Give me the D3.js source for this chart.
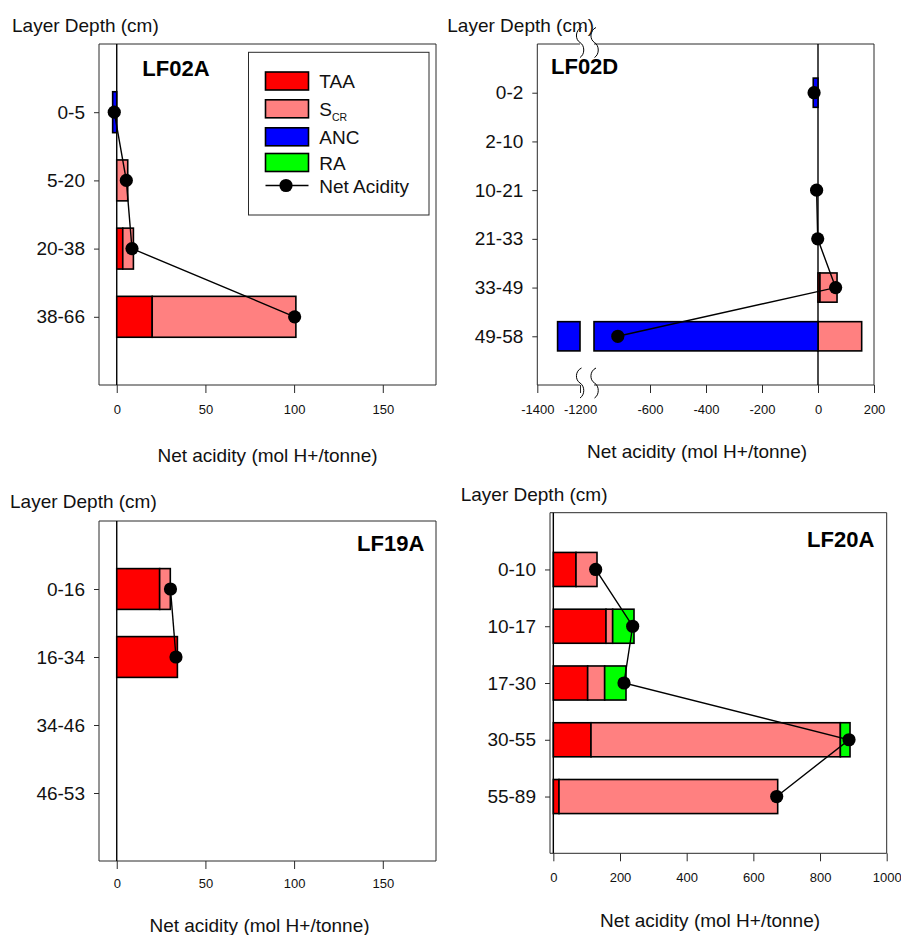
<!DOCTYPE html>
<html>
<head>
<meta charset="utf-8">
<script src="https://cdn.jsdelivr.net/npm/d3@7"></script>
<style>
  html, body { margin: 0; padding: 0; background: #fff; }
  svg { display: block; font-family: "Liberation Sans", Arial, sans-serif; }
</style>
</head>
<body>
<svg id="chart" width="901" height="935"></svg>
<script>
// ---------------- data ----------------
const componentKeys   = ["TAA", "SCR", "ANC", "RA"];
const componentColors = { TAA: "#ff0000", SCR: "#ff8080", ANC: "#0000ff", RA: "#00ff00" };

// LF02A
const lf02aDepths = ["0-5", "5-20", "20-38", "38-66"];
const lf02aTAA    = [0, 0, 3.4, 20];
const lf02aSCR    = [0, 6.2, 6, 81];
const lf02aANC    = [2.3, 0, 0, 0];
const lf02aRA     = [0, 0, 0, 0];
const lf02aNet    = [-1.4, 5.4, 8.6, 100.3];
const lf02aTicks  = [0, 50, 100, 150];

// LF02D (broken x axis)
const lf02dDepths = ["0-2", "2-10", "10-21", "21-33", "33-49", "49-58"];
const lf02dTAA    = [0, 0, 0, 0, 7, 0];
const lf02dSCR    = [0, 0, 0, 0, 61, 156];
const lf02dANC    = [17, 0, 0, 0, 0, 1305];
const lf02dRA     = [0, 0, 0, 0, 0, 0];
const lf02dNet    = [-14, null, -5, -1, 63, -715];
const lf02dTicks  = [-1400, -1200, -600, -400, -200, 0, 200];

// LF19A
const lf19aDepths = ["0-16", "16-34", "34-46", "46-53"];
const lf19aTAA    = [24.2, 34.2, 0, 0];
const lf19aSCR    = [6, 0, 0, 0];
const lf19aANC    = [0, 0, 0, 0];
const lf19aRA     = [0, 0, 0, 0];
const lf19aNet    = [30.3, 33.4, null, null];
const lf19aTicks  = [0, 50, 100, 150];

// LF20A
const lf20aDepths = ["0-10", "10-17", "17-30", "30-55", "55-89"];
const lf20aTAA    = [68, 158, 103, 113, 17];
const lf20aSCR    = [63, 20, 51, 748, 656];
const lf20aANC    = [0, 0, 0, 0, 0];
const lf20aRA     = [0, 64, 64, 29, 0];
const lf20aNet    = [127, 238, 212, 887, 670];
const lf20aTicks  = [0, 200, 400, 600, 800, 1000];

const yTitle = "Layer Depth (cm)";
const xTitle = "Net acidity (mol H+/tonne)";

// ---------------- panel setup ----------------
const panels = [
  {
    name: "LF02A", depths: lf02aDepths, TAA: lf02aTAA, SCR: lf02aSCR, ANC: lf02aANC, RA: lf02aRA, net: lf02aNet, ticks: lf02aTicks,
    frame: { x0: 99, x1: 436, y0: 44, y1: 385 },
    segments: [{ domain: [-10, 180], range: [99, 436] }],
    yTitlePos: [12, 31.5], xTitlePos: [267.5, 461.5],
    namePos: [142.3, 76, "start"], tickPad: 12, legend: true
  },
  {
    name: "LF02D", depths: lf02dDepths, TAA: lf02dTAA, SCR: lf02dSCR, ANC: lf02dANC, RA: lf02dRA, net: lf02dNet, ticks: lf02dTicks,
    frame: { x0: 537.3, x1: 874, y0: 44, y1: 385 },
    segments: [{ domain: [-1400, -1200], range: [537.3, 580] },
               { domain: [-800, 200], range: [594, 874] }],
    yTitlePos: [447.3, 32.3], xTitlePos: [697, 458],
    namePos: [551, 74, "start"], tickPad: 12, legend: false
  },
  {
    name: "LF19A", depths: lf19aDepths, TAA: lf19aTAA, SCR: lf19aSCR, ANC: lf19aANC, RA: lf19aRA, net: lf19aNet, ticks: lf19aTicks,
    frame: { x0: 99, x1: 436, y0: 521, y1: 861 },
    segments: [{ domain: [-10, 180], range: [99, 436] }],
    yTitlePos: [10, 508.3], xTitlePos: [259.5, 932],
    namePos: [424.3, 551, "end"], tickPad: 10, legend: false
  },
  {
    name: "LF20A", depths: lf20aDepths, TAA: lf20aTAA, SCR: lf20aSCR, ANC: lf20aANC, RA: lf20aRA, net: lf20aNet, ticks: lf20aTicks,
    frame: { x0: 550, x1: 886.7, y0: 512.7, y1: 853.3 },
    segments: [{ domain: [-10, 1000], range: [550, 886.7] }],
    yTitlePos: [460.7, 500.7], xTitlePos: [710, 927.3],
    namePos: [874.3, 546.7, "end"], tickPad: 11, legend: false
  }
];

const svg = d3.select("#chart");

function drawPanel(p) {
  const g = svg.append("g").attr("class", "panel-" + p.name);
  const f = p.frame;

  const segs = p.segments.map(s => ({ dom: s.domain, sc: d3.scaleLinear().domain(s.domain).range(s.range) }));
  const xPos = v => {
    for (const s of segs) if (v >= s.dom[0] && v <= s.dom[1]) return s.sc(v);
    return v < segs[0].dom[0] ? segs[0].sc(v) : segs[segs.length - 1].sc(v);
  };

  const y = d3.scalePoint().domain(p.depths).range([f.y0, f.y1]).padding(1);
  const barH = y.step() * 0.6;

  // frame (split where the x axis is broken)
  const frameG = g.append("g").attr("fill", "none").attr("stroke", "#2a2a2a").attr("stroke-width", 1);
  frameG.append("line").attr("x1", f.x0).attr("x2", f.x0).attr("y1", f.y0).attr("y2", f.y1);
  frameG.append("line").attr("x1", f.x1).attr("x2", f.x1).attr("y1", f.y0).attr("y2", f.y1);
  segs.forEach(s => {
    const [r0, r1] = s.sc.range();
    [f.y0, f.y1].forEach(yy => frameG.append("line").attr("x1", r0).attr("x2", r1).attr("y1", yy).attr("y2", yy));
  });

  // zero reference line
  g.append("line")
    .attr("x1", xPos(0)).attr("x2", xPos(0)).attr("y1", f.y0).attr("y2", f.y1)
    .attr("stroke", "#000").attr("stroke-width", 1.4);

  // stacked component bars
  const rows = p.depths.map((d, i) => {
    const pieces = [];
    let acc = 0;
    ["TAA", "SCR", "RA"].forEach(k => {
      const v = p[k][i];
      if (v > 0) { pieces.push({ key: k, a: acc, b: acc + v }); acc += v; }
    });
    if (p.ANC[i] > 0) pieces.push({ key: "ANC", a: -p.ANC[i], b: 0 });
    return { depth: d, pieces };
  });

  const barG = g.append("g");
  rows.forEach(r => {
    r.pieces.forEach(pc => {
      segs.forEach(s => {
        const lo = Math.max(pc.a, s.dom[0]), hi = Math.min(pc.b, s.dom[1]);
        if (hi > lo) {
          barG.append("rect")
            .attr("x", s.sc(lo)).attr("width", s.sc(hi) - s.sc(lo))
            .attr("y", y(r.depth) - barH / 2).attr("height", barH)
            .attr("fill", componentColors[pc.key])
            .attr("stroke", "#000").attr("stroke-width", 1.6);
        }
      });
    });
  });

  // net acidity line and points
  const pts = p.depths.map((d, i) => ({ depth: d, v: p.net[i] }));
  const line = d3.line().defined(d => d.v != null).x(d => xPos(d.v)).y(d => y(d.depth));
  g.append("path").datum(pts).attr("d", line)
    .attr("fill", "none").attr("stroke", "#000").attr("stroke-width", 1.4);
  g.append("g").selectAll("circle").data(pts.filter(d => d.v != null)).join("circle")
    .attr("cx", d => xPos(d.v)).attr("cy", d => y(d.depth)).attr("r", 6.6).attr("fill", "#000");

  // x axis (one per continuous segment)
  segs.forEach(s => {
    const tv = p.ticks.filter(t => t >= s.dom[0] && t <= s.dom[1]);
    const ax = g.append("g").attr("transform", `translate(0,${f.y1})`)
      .call(d3.axisBottom(s.sc).tickValues(tv).tickSize(8).tickPadding(p.tickPad).tickFormat(d => String(d)));
    ax.select(".domain").remove();
    ax.selectAll("line").attr("stroke", "#2a2a2a");
    ax.selectAll("text").attr("font-size", 13).attr("fill", "#111").attr("font-family", "'Liberation Sans', Arial, sans-serif");
  });

  // y axis
  const ay = g.append("g").attr("transform", `translate(${f.x0},0)`)
    .call(d3.axisLeft(y).tickSize(5).tickPadding(9));
  ay.select(".domain").remove();
  ay.selectAll("line").attr("stroke", "#2a2a2a");
  ay.selectAll("text").attr("font-size", 19).attr("fill", "#111").attr("font-family", "'Liberation Sans', Arial, sans-serif");

  // axis-break symbols
  if (segs.length > 1) {
    const bx = [segs[0].sc.range()[1], segs[1].sc.range()[0] + 0.5];
    const by = [f.y0 - 1.5, f.y1 - 2];
    const brk = (cx, cy) =>
      `M${cx + 1.5},${cy - 15} C${cx - 5},${cy - 12} ${cx - 5},${cy - 3} ${cx},${cy} ` +
      `C${cx + 5},${cy + 3} ${cx + 5},${cy + 12} ${cx},${cy + 15}`;
    by.forEach(cy => bx.forEach(cx =>
      g.append("path").attr("d", brk(cx, cy)).attr("fill", "none").attr("stroke", "#000").attr("stroke-width", 1)));
  }

  // titles
  g.append("text").attr("x", p.yTitlePos[0]).attr("y", p.yTitlePos[1])
    .attr("font-size", 19).attr("fill", "#111").text(yTitle);
  g.append("text").attr("x", p.xTitlePos[0]).attr("y", p.xTitlePos[1])
    .attr("text-anchor", "middle").attr("font-size", 19).attr("fill", "#111").text(xTitle);
  g.append("text").attr("x", p.namePos[0]).attr("y", p.namePos[1])
    .attr("text-anchor", p.namePos[2]).attr("font-size", 22).attr("font-weight", "bold").attr("fill", "#000").text(p.name);

  if (p.legend) drawLegend(g);
}

function drawLegend(g) {
  const lg = g.append("g");
  lg.append("rect").attr("x", 248.5).attr("y", 52.3).attr("width", 180.5).attr("height", 162.7)
    .attr("fill", "#fff").attr("stroke", "#2a2a2a").attr("stroke-width", 1);
  const rowsY = [81, 108.8, 136.8, 162.5];
  const labels = ["TAA", "S", "ANC", "RA"];
  componentKeys.forEach((k, i) => {
    lg.append("rect").attr("x", 265.5).attr("y", rowsY[i] - 9).attr("width", 43).attr("height", 18)
      .attr("fill", componentColors[k]).attr("stroke", "#000").attr("stroke-width", 1.6);
    const t = lg.append("text").attr("x", 319.3).attr("y", rowsY[i] + 7).attr("font-size", 19).attr("fill", "#111").text(labels[i]);
    if (k === "SCR") t.append("tspan").attr("dy", 5).attr("font-size", 10.5).text("CR");
  });
  const ny = 185.5;
  lg.append("line").attr("x1", 265.5).attr("x2", 308.5).attr("y1", ny).attr("y2", ny)
    .attr("stroke", "#000").attr("stroke-width", 1.4);
  lg.append("circle").attr("cx", 286).attr("cy", ny).attr("r", 6.6).attr("fill", "#000");
  lg.append("text").attr("x", 319.3).attr("y", ny + 7).attr("font-size", 19).attr("fill", "#111").text("Net Acidity");
}

panels.forEach(drawPanel);
</script>
</body>
</html>
